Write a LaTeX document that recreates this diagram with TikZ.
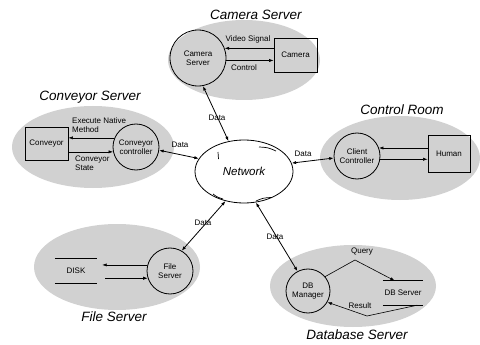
\documentclass[tikz,border=0pt]{standalone}
\usepackage{fontspec}
\setmainfont{Liberation Sans}
\usetikzlibrary{arrows.meta,shapes.geometric}
\begin{document}
\begin{tikzpicture}[x=1pt,y=-1pt,
  lbl/.style={font=\fontsize{8}{9}\selectfont, align=center, inner sep=0pt},
  ttl/.style={font=\fontsize{13.5}{15}\selectfont\itshape, inner sep=0pt},
  proc/.style={circle, draw, line width=0.8pt, inner sep=0pt, font=\fontsize{8}{9}\selectfont, align=center},
  ent/.style={rectangle, draw, line width=0.8pt, inner sep=0pt, font=\fontsize{8}{9}\selectfont},
  store/.style={rectangle, inner sep=0pt, font=\fontsize{8}{9}\selectfont},
  arr/.style={-{Latex[length=4.5pt,width=3.2pt]}, line width=0.6pt},
  darr/.style={{Latex[length=4.5pt,width=3.2pt]}-{Latex[length=4.5pt,width=3.2pt]}, line width=0.8pt},
  zone/.style={fill=black!18}]
\useasboundingbox (0,0) rectangle (480,345);

% gray zones
\fill[zone] (244,60) ellipse [x radius=76, y radius=40];
\fill[zone] (93,147) ellipse [x radius=81, y radius=41];
\fill[zone] (400,158) ellipse [x radius=80, y radius=42];
\fill[zone] (117,267) ellipse [x radius=83, y radius=43];
\fill[zone] (353,286) ellipse [x radius=83, y radius=41];

% titles
\node[ttl] (tcam) at (256,15) {Camera Server};
\node[ttl] (tconv) at (90,97) {Conveyor Server};
\node[ttl] (tctrl) at (402,110) {Control Room};
\node[ttl] (tfile) at (114,317) {File Server};
\node[ttl] (tdb) at (357,335) {Database Server};

% network
\node[ellipse, draw, line width=0.8pt, minimum width=98pt, minimum height=63pt, inner sep=0pt,
      font=\fontsize{11.5}{12}\selectfont\itshape] (net) at (244,171.5) {Network};
\draw[line width=0.7pt] (218,152) .. controls (217.5,155) .. (218.5,159);
\draw[line width=0.7pt] (259,147) .. controls (268,147.5) .. (276,151);
\draw[line width=0.7pt] (213,194) .. controls (217,197) .. (223,199);
\draw[line width=0.7pt] (256,201) .. controls (263,198) .. (271,197.5);

% camera server
\node[proc, minimum size=56pt] (camS) at (198,58) {Camera\\Server};
\node[ent, minimum width=43pt, minimum height=34pt] (cam) at (295.5,55) {Camera};
\draw[arr] (cam.west |- camS.20) -- (camS.20);
\draw[arr] (camS.-5) -- (cam.west |- camS.-5);
\node[lbl] (lvid) at (248,39) {Video Signal};
\node[lbl] (lctl) at (244,68) {Control};

% conveyor server
\node[proc, minimum size=46pt] (convC) at (136,147) {Conveyor\\controller};
\node[ent, minimum width=43pt, minimum height=33pt] (conv) at (46.5,143.5) {Conveyor};
\draw[arr] (convC.157) -- (conv.east |- convC.157);
\draw[arr] (conv.east |- convC.192) -- (convC.192);
\node[lbl, align=left, anchor=west] (lexe) at (72,125) {Execute Native\\Method};
\node[lbl, align=left, anchor=west] (lst) at (75,163) {Conveyor\\State};

% control room
\node[proc, minimum size=46pt] (cli) at (357,156) {Client\\Controller};
\node[ent, minimum width=42pt, minimum height=37pt] (hum) at (449,153.5) {Human};
\draw[arr] (hum.west |- cli.20) -- (cli.20);
\draw[arr] (cli.-8) -- (hum.west |- cli.-8);

% file server
\node[proc, minimum size=46pt] (fileC) at (170,271) {File\\Server};
\node[store, minimum width=42pt, minimum height=24pt] (disk) at (76,271) {DISK};
\draw[line width=1pt] (disk.north west) -- (disk.north east);
\draw[line width=1pt] (disk.south west) -- (disk.south east);
\draw[arr] (fileC.165) -- ([xshift=5pt]disk.east |- fileC.165);
\draw[arr] ([xshift=8pt]disk.east |- fileC.198) -- (fileC.198);

% database server
\node[proc, minimum size=44pt] (dbC) at (308,291) {DB\\Manager};
\node[store, minimum width=40pt, minimum height=24pt] (dbs) at (403,293) {DB Server};
\draw[line width=1pt] (dbs.north west) -- (dbs.north east);
\draw[line width=1pt] (dbs.south west) -- (dbs.south east);
\coordinate (qpk) at (355,260);
\coordinate (rpk) at (367,316);
\draw[arr] (dbC.40) -- (qpk) -- ([xshift=12pt]dbs.north west);
\draw[arr] ([xshift=-6pt]dbs.south east) -- (rpk) -- (dbC.-30);
\node[lbl] (lq) at (362,252) {Query};
\node[lbl] (lr) at (360,306) {Result};

% data links
\draw[darr] (camS.-80) -- (net.117);
\draw[darr] (convC.-8) -- (net.164);
\draw[darr] (cli.185) -- (net.10);
\draw[darr] (fileC.60) -- (net.238);
\draw[darr] (dbC.118) -- (net.-69);
\node[lbl] (d1) at (217,118) {Data};
\node[lbl] (d2) at (180,145) {Data};
\node[lbl] (d3) at (303,154) {Data};
\node[lbl] (d4) at (203,223) {Data};
\node[lbl] (d5) at (275,237) {Data};
\end{tikzpicture}
\end{document}
